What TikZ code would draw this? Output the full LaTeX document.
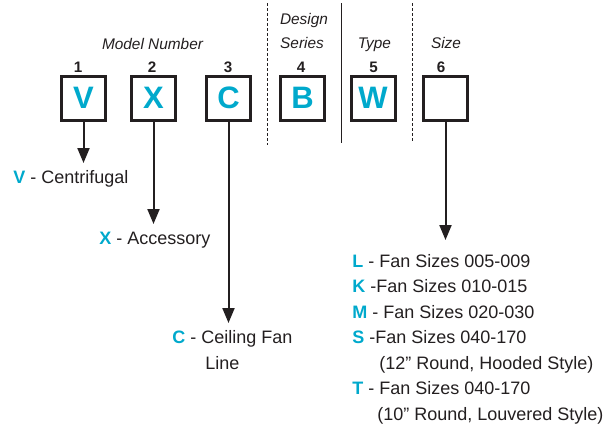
\documentclass[tikz,border=0pt]{standalone}
\usepackage{fontspec}
\setmainfont{Liberation Sans}
\usetikzlibrary{arrows.meta}
\definecolor{codecyan}{RGB}{0,169,204}
\definecolor{inkgray}{RGB}{35,31,32}
\newcommand{\codeletter}[1]{\textcolor{codecyan}{\bfseries #1}}

\begin{document}
\begin{tikzpicture}[x=0.5pt,y=-0.5pt,>={Triangle[length=7.5pt,width=6pt]},
  codebox/.style={draw=inkgray,line width=1.5pt,minimum size=22pt,inner sep=0pt,
    text=codecyan,font=\fontsize{15.5}{18}\selectfont\bfseries},
  posnum/.style={inkgray,font=\fontsize{7.6}{9}\selectfont\bfseries,
    anchor=base,inner sep=0pt},
  fieldname/.style={inkgray,font=\fontsize{7.7}{9}\selectfont\itshape,
    anchor=base,inner sep=0pt},
  choice/.style={inkgray,font=\fontsize{9}{11}\selectfont,
    anchor=base west,inner sep=0pt},
  pointer/.style={inkgray,line width=1pt,->},
  divider/.style={inkgray,line width=0.5pt}]
  \useasboundingbox (0,0) rectangle (616,430);

  % --- field dividers ---
  \draw[divider,dash pattern=on 1.5pt off 1pt] (267,3) -- (267,145);
  \draw[divider] (341,3) -- (341,143);
  \draw[divider,dash pattern=on 1.5pt off 1pt] (412,3) -- (412,143);

  % --- field names ---
  \node[fieldname] (model) at (152.5,49) {Model Number};
  \node[fieldname] (design) at (304,24) {Design};
  \node[fieldname] (series) at (302,48) {Series};
  \node[fieldname] (type) at (374.5,48) {Type};
  \node[fieldname] (size) at (446,48) {Size};

  % --- position numbers ---
  \node[posnum] (num1) at (78,72) {1};
  \node[posnum] (num2) at (152,72) {2};
  \node[posnum] (num3) at (228,72) {3};
  \node[posnum] (num4) at (301,72) {4};
  \node[posnum] (num5) at (373.5,72) {5};
  \node[posnum] (num6) at (441,72) {6};

  % --- code boxes ---
  \node[codebox] (box1) at (83.5,98) {V};
  \node[codebox] (box2) at (153.5,98) {X};
  \node[codebox] (box3) at (228.5,98) {C};
  \node[codebox] (box4) at (302.5,98) {B};
  \node[codebox] (box5) at (373,98) {W};
  \node[codebox] (box6) at (445.5,98) {};

  % --- arrow ends ---
  \coordinate (tip1) at (83.5,163);
  \coordinate (tip2) at (153.5,224);
  \coordinate (tip3) at (228.5,323);
  \coordinate (tip6) at (445.5,240);

  \draw[pointer] (box1.south) -- (tip1);
  \draw[pointer] (box2.south) -- (tip2);
  \draw[pointer] (box3.south) -- (tip3);
  \draw[pointer] (box6.south) -- (tip6);

  % --- meanings ---
  \node[choice] (centrifugal) at (13,183.5) {\codeletter{V} - Centrifugal};
  \node[choice] (accessory) at (99,244.5) {\codeletter{X} - Accessory};
  \node[choice] (ceiling) at (172,343.5) {\codeletter{C} - Ceiling Fan};
  \node[choice] (ceiling2) at (205,369.5) {Line};

  % size list
  \node[choice] (sizeL) at (352,267) {\codeletter{L} - Fan Sizes 005-009};
  \node[choice] (sizeK) at (352,292.5) {\codeletter{K} -Fan Sizes 010-015};
  \node[choice] (sizeM) at (352,318) {\codeletter{M} - Fan Sizes 020-030};
  \node[choice] (sizeS) at (352,343.5) {\codeletter{S} -Fan Sizes 040-170};
  \node[choice] (sizeS2) at (379,369) {(12” Round, Hooded Style)};
  \node[choice] (sizeT) at (352,394.5) {\codeletter{T} - Fan Sizes 040-170};
  \node[choice] (sizeT2) at (377,420) {(10” Round, Louvered Style)};

\end{tikzpicture}
\end{document}
